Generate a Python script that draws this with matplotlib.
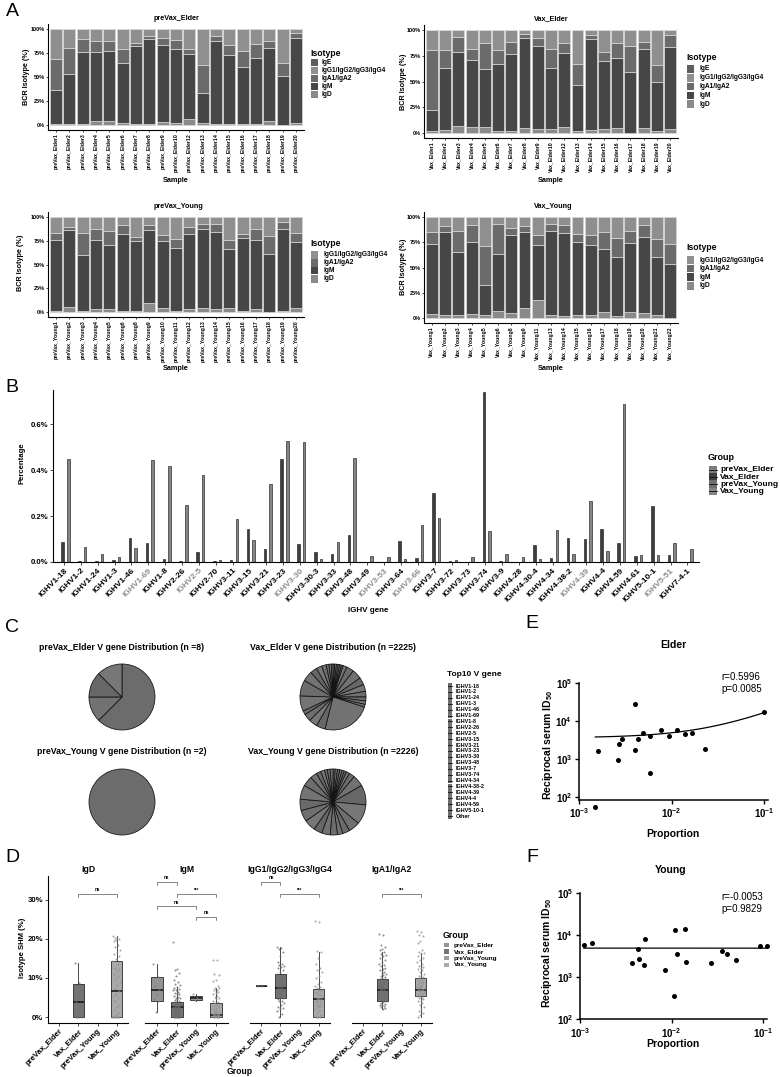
import numpy as np
import matplotlib
matplotlib.use('Agg')
import matplotlib.pyplot as plt
from matplotlib.patches import Rectangle
from matplotlib.lines import Line2D
from matplotlib.ticker import NullLocator

plt.rcParams['font.family'] = ['Liberation Sans', 'DejaVu Sans']
plt.rcParams['mathtext.fontset'] = 'custom'
plt.rcParams['mathtext.rm'] = 'Liberation Sans'
plt.rcParams['mathtext.bf'] = 'Liberation Sans:bold'

W, H = 780, 1077
fig = plt.figure(figsize=(W / 100, H / 100), dpi=100)


def px_axes(l, t, r, b):
    return fig.add_axes([l / W, 1 - b / H, (r - l) / W, (b - t) / H])


def ftext(x, y, s, **kw):
    kw.setdefault('ha', 'center')
    kw.setdefault('va', 'center')
    return fig.text(x / W, 1 - y / H, s, **kw)


def frect(x, y, w, h, **kw):
    fig.add_artist(Rectangle((x / W, 1 - (y + h) / H), w / W, h / H,
                             transform=fig.transFigure, **kw))


def manual_legend(x, ytitle, title, labels, colors, y0, dy, bw, bh, fs, tfs, tx,
                  sep=False):
    ftext(x, ytitle, title, ha='left', fontsize=tfs, fontweight='bold')
    for i, (lab, c) in enumerate(zip(labels, colors)):
        yc = y0 + i * dy
        frect(x + 1, yc - bh / 2, bw, bh, facecolor=c, edgecolor='none')
        if sep:
            fig.add_artist(Line2D([(x + 1) / W, (x + 1 + bw) / W],
                                  [1 - yc / H, 1 - yc / H], color='#111111',
                                  lw=0.6, transform=fig.transFigure))
        ftext(tx, yc, lab, ha='left', fontsize=fs, fontweight='bold')


# ---------------------------------------------------------------- DATA: A
pve_samples = ['preVax_Elder1', 'preVax_Elder2', 'preVax_Elder3', 'preVax_Elder4', 'preVax_Elder5',
               'preVax_Elder6', 'preVax_Elder7', 'preVax_Elder8', 'preVax_Elder9', 'preVax_Elder10',
               'preVax_Elder12', 'preVax_Elder13', 'preVax_Elder14', 'preVax_Elder15', 'preVax_Elder16',
               'preVax_Elder17', 'preVax_Elder18', 'preVax_Elder19', 'preVax_Elder20']
pve_igd = [1, 1, 1, 4, 4, 2.5, 1, 1, 3, 2, 6, 2, 1, 1, 1.5, 1, 4, 0.5, 2]
pve_igm = [35.6, 52, 75, 72, 73, 62.5, 81, 88, 80, 77, 68, 31, 86, 72, 58.5, 69, 76, 50.5, 88]
pve_iga = [32.4, 27, 13, 11, 10.5, 14.5, 3, 4, 7, 9, 5, 29, 6, 10, 17, 14, 7, 13.5, 6]
pve_igg = [31, 20, 11, 13, 12.5, 20.5, 15, 7, 10, 12, 21, 38, 7, 17, 23, 16, 13, 35.5, 4]
pve_ige = [0] * 19

ve_samples = ['Vax_Elder1', 'Vax_Elder2', 'Vax_Elder3', 'Vax_Elder4', 'Vax_Elder5', 'Vax_Elder6',
              'Vax_Elder7', 'Vax_Elder8', 'Vax_Elder9', 'Vax_Elder10', 'Vax_Elder12', 'Vax_Elder13',
              'Vax_Elder14', 'Vax_Elder15', 'Vax_Elder16', 'Vax_Elder17', 'Vax_Elder18', 'Vax_Elder19',
              'Vax_Elder20']
ve_igd = [1.6, 3.2, 7, 6, 6, 2, 1.6, 5, 4, 4, 6, 2, 3, 4, 5, 0, 5, 1.6, 4]
ve_igm = [21.1, 59.8, 71.6, 65.4, 56, 64.6, 75.4, 87.5, 81, 58.7, 72, 45, 88, 66, 68, 59.4, 77, 48.1, 80]
ve_iga = [57.8, 17.5, 14.4, 10.1, 25.7, 13.9, 11, 3.5, 7.5, 18.8, 9, 20, 4, 9, 14, 25.3, 6, 16.3, 11]
ve_igg = [19.5, 19.5, 7, 18.5, 12.3, 19.5, 12, 4, 7.5, 18.5, 13, 33, 5, 21, 13, 15.3, 12, 34, 5]
ve_ige = [0] * 19

pvy_samples = ['preVax_Young1', 'preVax_Young2', 'preVax_Young3', 'preVax_Young4', 'preVax_Young5',
               'preVax_Young6', 'preVax_Young8', 'preVax_Young9', 'preVax_Young10', 'preVax_Young11',
               'preVax_Young12', 'preVax_Young13', 'preVax_Young14', 'preVax_Young15', 'preVax_Young16',
               'preVax_Young17', 'preVax_Young18', 'preVax_Young19', 'preVax_Young20']
pvy_igd = [1.8, 6, 1, 3.5, 3.5, 1.8, 1.8, 10, 4.5, 1.8, 3, 4.5, 3.5, 4.5, 1.8, 3.5, 0.7, 1.8, 4.5]
pvy_igm = [73.6, 80, 58.6, 71.9, 66.5, 80, 72.9, 76, 69.9, 65.9, 78.8, 82.5, 80.5, 62.2, 76.2, 72.5, 60.7, 85.2, 69.2]
pvy_iga = [7.1, 2.8, 23.9, 12.3, 15, 9.2, 4.3, 5, 6.3, 9.3, 7.7, 5, 8, 8.7, 3.8, 11.7, 18.6, 7.7, 9.8]
pvy_igg = [17.5, 11.2, 16.5, 12.3, 15, 9, 21, 9, 19.3, 23, 10.5, 8, 8, 24.6, 18.2, 12.3, 20, 5.3, 16.5]

vy_samples = ['Vax_Young1', 'Vax_Young2', 'Vax_Young3', 'Vax_Young4', 'Vax_Young5', 'Vax_Young6',
              'Vax_Young8', 'Vax_Young9', 'Vax_Young11', 'Vax_Young13', 'Vax_Young14', 'Vax_Young15',
              'Vax_Young16', 'Vax_Young17', 'Vax_Young18', 'Vax_Young19', 'Vax_Young20', 'Vax_Young21',
              'Vax_Young22']
vy_igd = [4.3, 3.3, 3.3, 4.3, 3.3, 7.3, 5, 10, 18, 3.3, 1.6, 3.3, 3.3, 6, 2.3, 5.6, 5, 2.6, 0]
vy_igm = [69.3, 81.7, 62, 70.9, 29, 56.1, 76.8, 75, 54.6, 82.5, 82.4, 71.7, 69.3, 62.3, 58.1, 68.7, 75, 57.4, 53.8]
vy_iga = [11.4, 6.4, 21.2, 17.2, 38.7, 30, 7.2, 5.8, 9.9, 7.2, 8, 8.5, 9.9, 16.7, 18.8, 12.2, 11.7, 18.2, 19.5]
vy_igg = [15, 8.6, 13.5, 7.6, 29, 6.6, 11, 9.2, 17.5, 7, 8, 16.5, 17.5, 15, 20.8, 13.5, 8.3, 21.8, 26.7]

iso_names = ['IgE', 'IgG1/IgG2/IgG3/IgG4', 'IgA1/IgA2', 'IgM', 'IgD']
iso_colors = {'IgE': '#5e5e5e', 'IgG1/IgG2/IgG3/IgG4': '#8f8f8f', 'IgA1/IgA2': '#6b6b6b',
              'IgM': '#474747', 'IgD': '#8a8a8a'}

# ---------------------------------------------------------------- DATA: B
genes = ['IGHV1-18', 'IGHV1-2', 'IGHV1-24', 'IGHV1-3', 'IGHV1-46', 'IGHV1-69', 'IGHV1-8',
         'IGHV2-26', 'IGHV2-5', 'IGHV2-70', 'IGHV3-11', 'IGHV3-15', 'IGHV3-21', 'IGHV3-23',
         'IGHV3-30', 'IGHV3-30-3', 'IGHV3-33', 'IGHV3-48', 'IGHV3-49', 'IGHV3-53', 'IGHV3-64',
         'IGHV3-66', 'IGHV3-7', 'IGHV3-72', 'IGHV3-73', 'IGHV3-74', 'IGHV3-9', 'IGHV4-28',
         'IGHV4-30-4', 'IGHV4-34', 'IGHV4-38-2', 'IGHV4-39', 'IGHV4-4', 'IGHV4-59', 'IGHV4-61',
         'IGHV5-10-1', 'IGHV5-51', 'IGHV7-4-1']
gray_gene_labels = ['IGHV1-69', 'IGHV2-5', 'IGHV3-30', 'IGHV3-53', 'IGHV3-66', 'IGHV4-39', 'IGHV5-51']
b_preVax_Elder = [0.0] * 38
b_Vax_Elder = [0.087, 0.004, 0.004, 0.01, 0.106, 0.084, 0.015, 0.003, 0.044, 0.006, 0.01, 0.142,
               0.058, 0.449, 0.077, 0.042, 0.033, 0.116, 0.001, 0.001, 0.09, 0.019, 0.30, 0.006,
               0.001, 0.741, 0.006, 0.001, 0.075, 0.019, 0.106, 0.10, 0.144, 0.084, 0.028, 0.243,
               0.032, 0.001]
b_preVax_Young = [0.0] * 38
b_Vax_Young = [0.448, 0.065, 0.036, 0.022, 0.062, 0.443, 0.42, 0.247, 0.378, 0.01, 0.189, 0.096,
               0.339, 0.528, 0.522, 0.012, 0.086, 0.455, 0.025, 0.023, 0.012, 0.16, 0.192, 0.01,
               0.02, 0.135, 0.033, 0.02, 0.012, 0.141, 0.033, 0.265, 0.048, 0.69, 0.03, 0.03,
               0.081, 0.058]
groups = ['preVax_Elder', 'Vax_Elder', 'preVax_Young', 'Vax_Young']
b_colors = ['#7b7b7b', '#3e3e3e', '#6e6e6e', '#858585']

# ---------------------------------------------------------------- DATA: C
top_genes = ['IGHV1-18', 'IGHV1-2', 'IGHV1-24', 'IGHV1-3', 'IGHV1-46', 'IGHV1-69', 'IGHV1-8',
             'IGHV2-26', 'IGHV2-5', 'IGHV3-15', 'IGHV3-21', 'IGHV3-23', 'IGHV3-30', 'IGHV3-48',
             'IGHV3-7', 'IGHV3-74', 'IGHV4-34', 'IGHV4-38-2', 'IGHV4-39', 'IGHV4-4', 'IGHV4-59',
             'IGHV5-10-1', 'Other']
pie_preVax_Elder = [5, 1, 1, 1]
pie_Vax_Elder = [3, 3, 3, 3, 3, 3, 7, 13, 17, 13, 12, 10, 7, 6, 5, 86, 16, 15, 13, 7, 27, 28,
                 18, 12, 10, 8, 5, 4, 3]
pie_preVax_Young = [2]
pie_Vax_Young = [4, 4, 4, 4, 4, 4, 6, 10, 20, 35, 35, 20, 13, 9, 13, 15, 15, 20, 20, 20, 25,
                 18, 12, 8, 7, 5, 5, 5]
pie_titles = ['preVax_Elder V gene Distribution (n =8)', 'Vax_Elder V gene Distribution (n =2225)',
              'preVax_Young V gene Distribution (n =2)', 'Vax_Young V gene Distribution (n =2226)']

# ---------------------------------------------------------------- DATA: D
isotypes_d = ['IgD', 'IgM', 'IgG1/IgG2/IgG3/IgG4', 'IgA1/IgA2']
# (whisker low, q1, median, q3, whisker high) per group
igd_box = [None, (0, 0, 3.8, 8.5, 13.7), None, (0, 0, 6.6, 14.2, 20.7)]
igm_box = [(1.4, 4.0, 6.9, 10.2, 13.5), (0, 0, 2.5, 3.9, 7.8), (4.2, 4.4, 5.0, 5.5, 5.8), (0, 0, 0.6, 3.6, 7.4)]
igg_box = [(8, 8, 8, 8, 8), (0, 4.8, 7.4, 11.0, 18.0), None, (0, 0, 4.6, 7.1, 16.7)]
iga_box = [None, (2.0, 4.2, 7.0, 9.7, 16.7), None, (0, 5.3, 7.0, 9.9, 16.3)]

igd_pts = [None,
           [13.7, 8.6, 8.3, 7.0, 5.5, 3.8, 2.5, 0, 0, 0, 0],
           None,
           [20.7, 20.5, 20.3, 20.0, 19.8, 19.5, 18.5, 17.8, 17.0, 16.5, 16.0, 15.5, 14.8, 14.2,
            13.5, 12.5, 12.2, 11.8, 11.0, 10.5, 9.8, 9.0, 8.2, 7.5, 6.6, 6.0, 5.5, 4.8, 4.0, 3.2,
            2.5, 1.8, 1.0, 0.5, 0, 0, 0, 0, 0, 0, 0]]
igm_pts = [[13.5, 10.2, 8.0, 6.9, 6.0, 4.5, 4.0, 1.4],
           [19.2, 12.3, 12.0, 11.2, 10.5, 9.5, 9.0, 8.5, 8.2, 7.8, 7.5, 7.2, 7.0, 6.8, 6.5, 6.2,
            6.0, 5.8, 5.5, 5.2, 5.0, 4.8, 4.5, 4.3, 4.1, 3.9, 3.8, 3.6, 3.5, 3.3, 3.2, 3.0, 2.9,
            2.8, 2.7, 2.6, 2.5, 2.5, 2.4, 2.3, 2.2, 2.1, 2.0, 1.9, 1.8, 1.7, 1.6, 1.5, 1.4, 1.3,
            1.2, 1.1, 1.0, 0.9, 0.8, 0.7, 0.6, 0.5, 0.4, 0.3, 0.2, 0.1, 0, 0, 0, 0, 0, 0],
           [5.8, 5.0, 4.4],
           [14.6, 14.5, 11.0, 10.8, 9.5, 9.3, 8.0, 7.5, 7.4, 7.0, 6.8, 6.5, 6.2, 5.8, 5.5, 5.2,
            5.0, 4.6, 4.2, 3.8, 3.6, 3.4, 3.1, 2.8, 2.5, 2.2, 2.0, 1.8, 1.6, 1.4, 1.2, 1.0, 0.9,
            0.8, 0.7, 0.6, 0.6, 0.5, 0.4, 0.3, 0.2, 0.1, 0, 0, 0, 0, 0, 0]]
igg_pts = [[8.0, 8.0],
           [17.8, 17.6, 17.5, 16.5, 15.5, 14.0, 13.5, 13.2, 13.0, 12.8, 12.5, 12.0, 11.5, 11.0,
            10.8, 10.5, 10.2, 10.0, 9.5, 9.2, 9.0, 8.8, 8.5, 8.2, 8.0, 7.8, 7.6, 7.4, 7.2, 7.0,
            6.8, 6.5, 6.2, 6.0, 5.8, 5.5, 5.2, 5.0, 4.8, 4.5, 4.2, 4.0, 3.5, 3.0, 2.5, 2.2, 2.0,
            1.5, 0.8, 0],
           None,
           [24.5, 24.2, 16.8, 16.6, 15.0, 13.5, 12.5, 12.0, 11.5, 10.5, 10.0, 9.0, 8.5, 8.0, 7.8,
            7.5, 7.0, 6.8, 6.5, 6.0, 5.8, 5.5, 5.0, 4.8, 4.6, 4.5, 4.2, 4.0, 3.8, 3.5, 3.2, 3.0,
            2.8, 2.5, 2.0, 1.5, 1.0, 0.5, 0, 0, 0, 0]]
iga_pts = [None,
           [21.2, 21.0, 18.5, 18.0, 17.5, 17.0, 16.7, 16.2, 15.8, 15.5, 15.0, 14.5, 14.0, 13.5,
            13.2, 13.0, 12.5, 12.2, 12.0, 11.5, 11.2, 11.0, 10.8, 10.5, 10.2, 10.0, 9.8, 9.7, 9.5,
            9.2, 9.0, 8.8, 8.5, 8.3, 8.0, 7.8, 7.6, 7.4, 7.2, 7.0, 7.0, 6.8, 6.6, 6.4, 6.2, 6.0,
            5.8, 5.6, 5.4, 5.2, 5.0, 4.8, 4.6, 4.4, 4.2, 4.0, 3.8, 3.6, 3.4, 3.2, 3.0, 2.8, 2.5,
            2.2, 2.0],
           None,
           [22.0, 21.8, 21.0, 20.8, 19.5, 19.0, 17.0, 16.5, 16.3, 16.0, 15.5, 15.0, 14.5, 14.0,
            13.5, 13.0, 12.8, 12.5, 12.2, 12.0, 11.5, 11.0, 10.8, 10.5, 10.2, 9.9, 9.8, 9.5, 9.2,
            9.0, 8.8, 8.5, 8.2, 8.0, 7.8, 7.6, 7.4, 7.2, 7.0, 7.0, 6.8, 6.6, 6.4, 6.2, 6.0, 5.8,
            5.5, 5.3, 5.0, 4.8, 4.5, 4.2, 4.0, 3.5, 3.0, 2.5, 2.0, 1.5, 1.0, 0.5, 0]]
igd_sig = [(2, 4, 31.4, 'ns')]
igm_sig = [(1, 2, 34.5, 'ns'), (2, 4, 31.4, '***'), (1, 3, 28.3, 'ns'), (3, 4, 25.6, 'ns')]
igg_sig = [(1, 2, 34.5, 'ns'), (2, 4, 31.4, '***')]
iga_sig = [(2, 4, 31.4, '***')]
d_box_colors = ['#939393', '#747474', '#9c9c9c', '#a9a9a9']
d_pt_colors = ['#7a7a7a', '#6a6a6a', '#858585', '#8e8e8e']

# ---------------------------------------------------------------- DATA: E, F
elder_prop = [0.00148, 0.00162, 0.00266, 0.0027, 0.00294, 0.0040, 0.0040, 0.0043, 0.00488,
              0.0059, 0.0059, 0.00776, 0.00944, 0.01143, 0.0139, 0.0167, 0.0229, 0.099]
elder_id50 = [54, 1618, 955, 2432, 3365, 27300, 1690, 3365, 4850, 4120, 424, 5940, 4120, 5940,
              4560, 4950, 1866, 17100]
elder_fit_intercept, elder_fit_slope = 3605, 130256
elder_fit_range = (0.0015, 0.099)
young_prop = [0.0011, 0.00135, 0.00366, 0.00433, 0.00436, 0.00512, 0.00505, 0.0084, 0.0108,
              0.0107, 0.01153, 0.0141, 0.0142, 0.0266, 0.0354, 0.0405, 0.0503, 0.0927, 0.1087]
young_id50 = [5830, 6280, 2210, 4600, 2700, 7960, 1910, 1475, 13300, 360, 3490, 13800, 2335,
              2210, 4200, 3560, 2610, 5420, 5500]
young_fit_intercept, young_fit_slope = 4870, -100
young_fit_range = (0.0011, 0.1087)

# ================================================================ PANEL A


def stack_panel(box, names, layers, title, tpos, ypos, spos):
    ax = px_axes(*box)
    x = np.arange(1, len(names) + 1)
    bottom = np.zeros(len(names))
    for lab, vals in layers:
        v = np.asarray(vals, float)
        ax.bar(x, v, 0.9, bottom=bottom, color=iso_colors[lab], edgecolor='#d8d8d8',
               linewidth=0.5)
        bottom += v
    ax.set_xlim(0.4, len(names) + 0.6)
    ax.set_ylim(-5, 105)
    ax.set_yticks([0, 25, 50, 75, 100])
    ax.set_yticklabels(['0%', '25%', '50%', '75%', '100%'], fontsize=4.0, fontweight='bold')
    ax.set_xticks(x)
    ax.set_xticklabels(names, rotation=90, fontsize=3.7, fontweight='bold')
    for s in ['top', 'right']:
        ax.spines[s].set_visible(False)
    for s in ['left', 'bottom']:
        ax.spines[s].set_linewidth(0.8)
    ax.tick_params(length=1.5, width=0.5, pad=1)
    ftext(tpos[0], tpos[1], title, fontsize=5.2, fontweight='bold')
    ftext(ypos[0], ypos[1], 'BCR Isotype (%)', fontsize=5.2, fontweight='bold', rotation=90)
    ftext(spos[0], spos[1], 'Sample', fontsize=5.2, fontweight='bold')
    return ax


stack_panel((48, 24, 304, 130), pve_samples,
            [('IgD', pve_igd), ('IgM', pve_igm), ('IgA1/IgA2', pve_iga),
             ('IgG1/IgG2/IgG3/IgG4', pve_igg), ('IgE', pve_ige)],
            'preVax_Elder', (176, 18), (27, 77), (176, 180))
stack_panel((424, 25, 678, 138), ve_samples,
            [('IgD', ve_igd), ('IgM', ve_igm), ('IgA1/IgA2', ve_iga),
             ('IgG1/IgG2/IgG3/IgG4', ve_igg), ('IgE', ve_ige)],
            'Vax_Elder', (551, 19), (403, 82), (551, 180))
stack_panel((48, 212, 304, 317), pvy_samples,
            [('IgD', pvy_igd), ('IgM', pvy_igm), ('IgA1/IgA2', pvy_iga),
             ('IgG1/IgG2/IgG3/IgG4', pvy_igg)],
            'preVax_Young', (178, 206), (20, 263), (176, 368))
stack_panel((424, 212, 678, 323), vy_samples,
            [('IgD', vy_igd), ('IgM', vy_igm), ('IgA1/IgA2', vy_iga),
             ('IgG1/IgG2/IgG3/IgG4', vy_igg)],
            'Vax_Young', (553, 206), (403, 267), (551, 368))

manual_legend(310, 53, 'Isotype', iso_names, [iso_colors[n] for n in iso_names],
              62.3, 8, 6.5, 7, 4.8, 6.2, 322)
manual_legend(686, 58, 'Isotype', iso_names, [iso_colors[n] for n in iso_names],
              69, 8.8, 6.5, 7.5, 4.8, 6.2, 699)
manual_legend(310, 243, 'Isotype', iso_names[1:], [iso_colors[n] for n in iso_names[1:]],
              255, 8, 6.5, 7, 4.8, 6.2, 324)
manual_legend(686, 248, 'Isotype', iso_names[1:], [iso_colors[n] for n in iso_names[1:]],
              260, 8.6, 6.5, 7.5, 4.8, 6.2, 699)

# ================================================================ PANEL B
axb = px_axes(53, 390, 698.5, 562)
xg = np.arange(1, len(genes) + 1)
offs = [-0.25, -0.0833, 0.0833, 0.25]
for vals, off, c in zip([b_preVax_Elder, b_Vax_Elder, b_preVax_Young, b_Vax_Young], offs, b_colors):
    axb.bar(xg + off, vals, 0.15, color=c, edgecolor='#202020', linewidth=0.45)
axb.set_xlim(0.34, len(genes) + 0.66)
axb.set_ylim(0, 0.75)
axb.set_yticks([0, 0.2, 0.4, 0.6])
axb.set_yticklabels(['0.0%', '0.2%', '0.4%', '0.6%'], fontsize=5.6, fontweight='bold')
axb.set_xticks(xg)
axb.set_xticklabels(genes, rotation=45, ha='right', rotation_mode='anchor', fontsize=6.0,
                    fontweight='bold')
for lbl in axb.get_xticklabels():
    if lbl.get_text() in gray_gene_labels:
        lbl.set_color('#8c8c8c')
for s in ['top', 'right']:
    axb.spines[s].set_visible(False)
axb.spines['left'].set_linewidth(0.8)
axb.spines['bottom'].set_linewidth(0.8)
axb.tick_params(length=2, width=0.5, pad=1.5)
ftext(22, 463, 'Percentage', fontsize=5.6, fontweight='bold', rotation=90)
ftext(368, 611, 'IGHV gene', fontsize=5.8, fontweight='bold')
manual_legend(708, 458, 'Group', groups, b_colors, 469.5, 7.3, 8, 7.3, 6.0, 6.5, 720, sep=True)

# ================================================================ PANEL C
pie_grays = ['#6c6c6c', '#727272', '#676767', '#777777', '#6f6f6f', '#6a6a6a', '#747474']
pie_specs = [(122, 697, pie_preVax_Elder), (333, 697, pie_Vax_Elder),
             (122, 802, pie_preVax_Young), (333, 802, pie_Vax_Young)]
title_pos = [(122, 647), (333, 647), (122, 752), (333, 752)]
for (cx, cy, vals), (tx, ty), tt in zip(pie_specs, title_pos, pie_titles):
    r = 34
    axp = px_axes(cx - r, cy - r, cx + r, cy + r)
    cols = [pie_grays[i % len(pie_grays)] for i in range(len(vals))]
    axp.pie(vals, startangle=90, counterclock=False, colors=cols, radius=1,
            wedgeprops=dict(edgecolor='#111111', linewidth=0.55))
    axp.set_xlim(-1.03, 1.03)
    axp.set_ylim(-1.03, 1.03)
    axp.set_aspect('equal')
    axp.axis('off')
    ftext(tx, ty, tt, fontsize=6.3, fontweight='bold')
manual_legend(447, 674, 'Top10 V gene', top_genes,
              ['#6e6e6e' if i % 2 == 0 else '#727272' for i in range(len(top_genes))],
              686, 130 / 22, 4, 5.9, 3.9, 6.0, 456, sep=True)

# ================================================================ PANEL D
d_boxes = [igd_box, igm_box, igg_box, iga_box]
d_pts = [igd_pts, igm_pts, igg_pts, iga_pts]
d_sigs = [igd_sig, igm_sig, igg_sig, iga_sig]
d_ranges = [(48, 128), (145, 228), (250, 330), (352, 432)]
for k, (iso, boxes, pts, sigs, (l, r)) in enumerate(zip(isotypes_d, d_boxes, d_pts, d_sigs, d_ranges)):
    ax = px_axes(l, 876, r, 1023)
    for gi in range(4):
        if boxes[gi] is not None:
            wl, q1, med, q3, wh = boxes[gi]
            st = dict(whislo=wl, q1=q1, med=med, q3=q3, whishi=wh, fliers=[])
            ax.bxp([st], positions=[gi + 1], widths=0.6, patch_artist=True, showfliers=False,
                   showcaps=False,
                   boxprops=dict(facecolor=d_box_colors[gi], edgecolor='#2a2a2a', linewidth=0.6),
                   medianprops=dict(color='#111111', linewidth=1.1),
                   whiskerprops=dict(color='#2a2a2a', linewidth=0.6))
        if pts[gi] is not None:
            v = np.asarray(pts[gi], float)
            jit = ((np.arange(len(v)) * 0.618034) % 1 - 0.5) * 0.36
            ax.scatter(gi + 1 + jit, v, s=2.2, color=d_pt_colors[gi], alpha=0.75,
                       linewidths=0, zorder=3)
    for (x1, x2, y, lab) in sigs:
        ax.plot([x1, x1, x2, x2], [y - 0.7, y, y, y - 0.7], color='#555555', lw=0.5)
        ax.text((x1 + x2) / 2, y + 0.4, lab, ha='center', va='bottom', fontsize=3.3,
                fontweight='bold')
    ax.set_xlim(0.4, 4.6)
    ax.set_ylim(-1.5, 36)
    ax.set_xticks([1, 2, 3, 4])
    ax.set_xticklabels(groups, rotation=45, ha='right', rotation_mode='anchor', fontsize=5.6,
                       fontweight='bold')
    ax.tick_params(axis='x', length=2, width=0.5, pad=1.5)
    for s in ['top', 'right']:
        ax.spines[s].set_visible(False)
    ax.spines['bottom'].set_linewidth(0.8)
    if k == 0:
        ax.set_yticks([0, 10, 20, 30])
        ax.set_yticklabels(['0%', '10%', '20%', '30%'], fontsize=5.6, fontweight='bold')
        ax.tick_params(axis='y', length=2, width=0.5, pad=1.5)
        ax.spines['left'].set_linewidth(0.8)
    else:
        ax.spines['left'].set_visible(False)
        ax.set_yticks([])
    ftext((l + r) / 2, 870, iso, fontsize=6.2, fontweight='bold')
ftext(23, 948, 'Isotype SHM (%)', fontsize=5.6, fontweight='bold', rotation=90)
ftext(240, 1072, 'Group', fontsize=6.2, fontweight='bold')
manual_legend(443, 935, 'Group', groups, d_box_colors, 945, 6.6, 5, 4.5, 4.6, 6.3, 454)

# ================================================================ PANELS E, F


def corr_panel(box, xs, ys, b0, b1, xr, ylim, title, tpos, stat, spos, ylab_pos, xlab_pos):
    ax = px_axes(*box)
    ax.set_xscale('log')
    ax.set_yscale('log')
    ax.scatter(xs, ys, s=13, color='black', zorder=3, clip_on=False, linewidths=0)
    xx = np.logspace(np.log10(xr[0]), np.log10(xr[1]), 100)
    ax.plot(xx, b0 + b1 * xx, color='black', lw=0.9)
    ax.set_xlim(1e-3, 0.11)
    ax.set_ylim(*ylim)
    ax.set_xticks([1e-3, 1e-2, 1e-1])
    ax.set_xticklabels([r'$\mathbf{10^{-3}}$', r'$\mathbf{10^{-2}}$', r'$\mathbf{10^{-1}}$'],
                       fontsize=7)
    ax.set_yticks([1e2, 1e3, 1e4, 1e5])
    ax.set_yticklabels([r'$\mathbf{10^{2}}$', r'$\mathbf{10^{3}}$', r'$\mathbf{10^{4}}$',
                        r'$\mathbf{10^{5}}$'], fontsize=7)
    ax.xaxis.set_minor_locator(NullLocator())
    ax.yaxis.set_minor_locator(NullLocator())
    for s in ['top', 'right']:
        ax.spines[s].set_visible(False)
    for s in ['left', 'bottom']:
        ax.spines[s].set_linewidth(1.1)
    ax.tick_params(length=3, width=1.0, pad=2)
    ftext(tpos[0], tpos[1], title, fontsize=7.5, fontweight='bold')
    ftext(spos[0], spos[1], stat, ha='left', va='top', fontsize=7, linespacing=1.25)
    ftext(ylab_pos[0], ylab_pos[1], r'Reciprocal serum ID$_{\mathbf{50}}$', fontsize=7.5,
          fontweight='bold', rotation=90)
    ftext(xlab_pos[0], xlab_pos[1], 'Proportion', fontsize=7.5, fontweight='bold')


corr_panel((579, 683, 768, 799.7), elder_prop, elder_id50, elder_fit_intercept, elder_fit_slope,
           elder_fit_range, (85, 1e5), 'Elder', (673, 645), 'r=0.5996\np=0.0085', (721, 672),
           (548, 745), (673, 834))
corr_panel((580, 893, 767, 1019), young_prop, young_id50, young_fit_intercept, young_fit_slope,
           young_fit_range, (1e2, 1e5), 'Young', (671, 870), 'r=-0.0053\np=0.9829', (721, 892),
           (547, 953), (673, 1044))

# panel letters
for lab, (x, y) in {'A': (12, 12), 'B': (12, 387), 'C': (12, 628), 'D': (12, 857),
                    'E': (532, 623), 'F': (532, 857)}.items():
    ftext(x, y, lab, fontsize=14)

fig.savefig('out.png', dpi=100)
